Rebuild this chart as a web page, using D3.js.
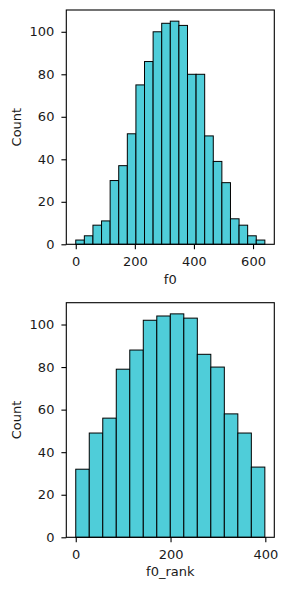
<!DOCTYPE html>
<html>
<head>
<meta charset="utf-8">
<script src="https://cdn.jsdelivr.net/npm/d3@7"></script>
<style>
body{margin:0;background:#fff;}
svg{display:block;font-family:"DejaVu Sans",sans-serif;}
</style>
</head>
<body>
<svg id="drawing_region"></svg>
<script>
// histogram of f0 : 22 bins over [0, 640]
const f0_range = [0, 640];
const f0_counts = [2,4,9,11,30,37,52,75,86,100,104,105,103,80,80,51,39,29,12,9,4,2];
const f0_xticks = [0,200,400,600];

// histogram of f0_rank : 14 bins over [0, 399]
const rank_range = [0, 399];
const rank_counts = [32,49,56,79,88,102,104,105,103,86,80,58,49,33];
const rank_xticks = [0,200,400];

const yticks = [0,20,40,60,80,100];

const svg = d3.select("#drawing_region")
    .attr("width",290)
    .attr("height",590);

class Histogram{
    constructor(config,range,counts,xticks){
        this.config = config;
        this.range = range;
        this.counts = counts;
        this.xticks = xticks;
        this.init();
    }

    init(){
        let self = this;
        const c = self.config;
        self.width = c.right-c.left;
        self.height = c.bottom-c.top;

        self.chart = svg.append("g")
            .attr("transform",`translate(${c.left},${c.top})`);

        const span = self.range[1]-self.range[0];
        self.xscale = d3.scaleLinear()
            .domain([self.range[0]-span*0.05, self.range[1]+span*0.05])
            .range([0,self.width]);
        const ymax = d3.max(self.counts)*1.05;
        self.yscale = d3.scaleLinear()
            .domain([0,ymax])
            .range([self.height,0]);

        const step = span/self.counts.length;
        self.bins = self.counts.map((d,i)=>({
            x0:self.range[0]+i*step,
            x1:self.range[0]+(i+1)*step,
            n:d
        }));
    }

    render(){
        let self = this;
        const c = self.config;

        self.chart.selectAll("rect.bar")
            .data(self.bins)
            .join("rect")
            .attr("class","bar")
            .attr("x",d=>self.xscale(d.x0))
            .attr("y",d=>self.yscale(d.n))
            .attr("width",d=>self.xscale(d.x1)-self.xscale(d.x0))
            .attr("height",d=>self.yscale(0)-self.yscale(d.n))
            .attr("fill","#4fcdd9")
            .attr("stroke","#000")
            .attr("stroke-width",1);

        // frame
        self.chart.append("rect")
            .attr("width",self.width)
            .attr("height",self.height)
            .attr("fill","none")
            .attr("stroke","#000")
            .attr("stroke-width",1.1);

        const xaxis = d3.axisBottom(self.xscale)
            .tickValues(self.xticks)
            .tickFormat(d3.format("d"))
            .tickSizeInner(4.9)
            .tickSizeOuter(0)
            .tickPadding(7.5);
        const xg = self.chart.append("g")
            .attr("transform",`translate(0,${self.height})`)
            .call(xaxis);

        const yaxis = d3.axisLeft(self.yscale)
            .tickValues(yticks)
            .tickSizeInner(4.9)
            .tickSizeOuter(0)
            .tickPadding(7);
        const yg = self.chart.append("g").call(yaxis);

        [xg,yg].forEach(g=>{
            g.select(".domain").remove();
            g.selectAll("line").attr("stroke","#000").attr("stroke-width",1.1);
            g.selectAll("text")
                .attr("fill","#1a1a1a")
                .attr("font-size","13px")
                .attr("font-family","DejaVu Sans");
        });

        self.chart.append("text")
            .attr("x",self.width*0.5)
            .attr("y",self.height+39.2)
            .attr("text-anchor","middle")
            .attr("fill","#1a1a1a")
            .attr("font-size","13px")
            .text(c.xlabel);

        self.chart.append("text")
            .attr("transform",`translate(${20.5-c.left},${self.height*0.5}) rotate(-90)`)
            .attr("text-anchor","middle")
            .attr("fill","#1a1a1a")
            .attr("font-size","13px")
            .text("Count");
    }
}

const top_plot = new Histogram({left:66.3,right:274.3,top:10,bottom:244.3,xlabel:"f0"},
    f0_range,f0_counts,f0_xticks);
top_plot.render();

const bottom_plot = new Histogram({left:66.3,right:274.3,top:302.7,bottom:537.3,xlabel:"f0_rank"},
    rank_range,rank_counts,rank_xticks);
bottom_plot.render();
</script>
</body>
</html>
